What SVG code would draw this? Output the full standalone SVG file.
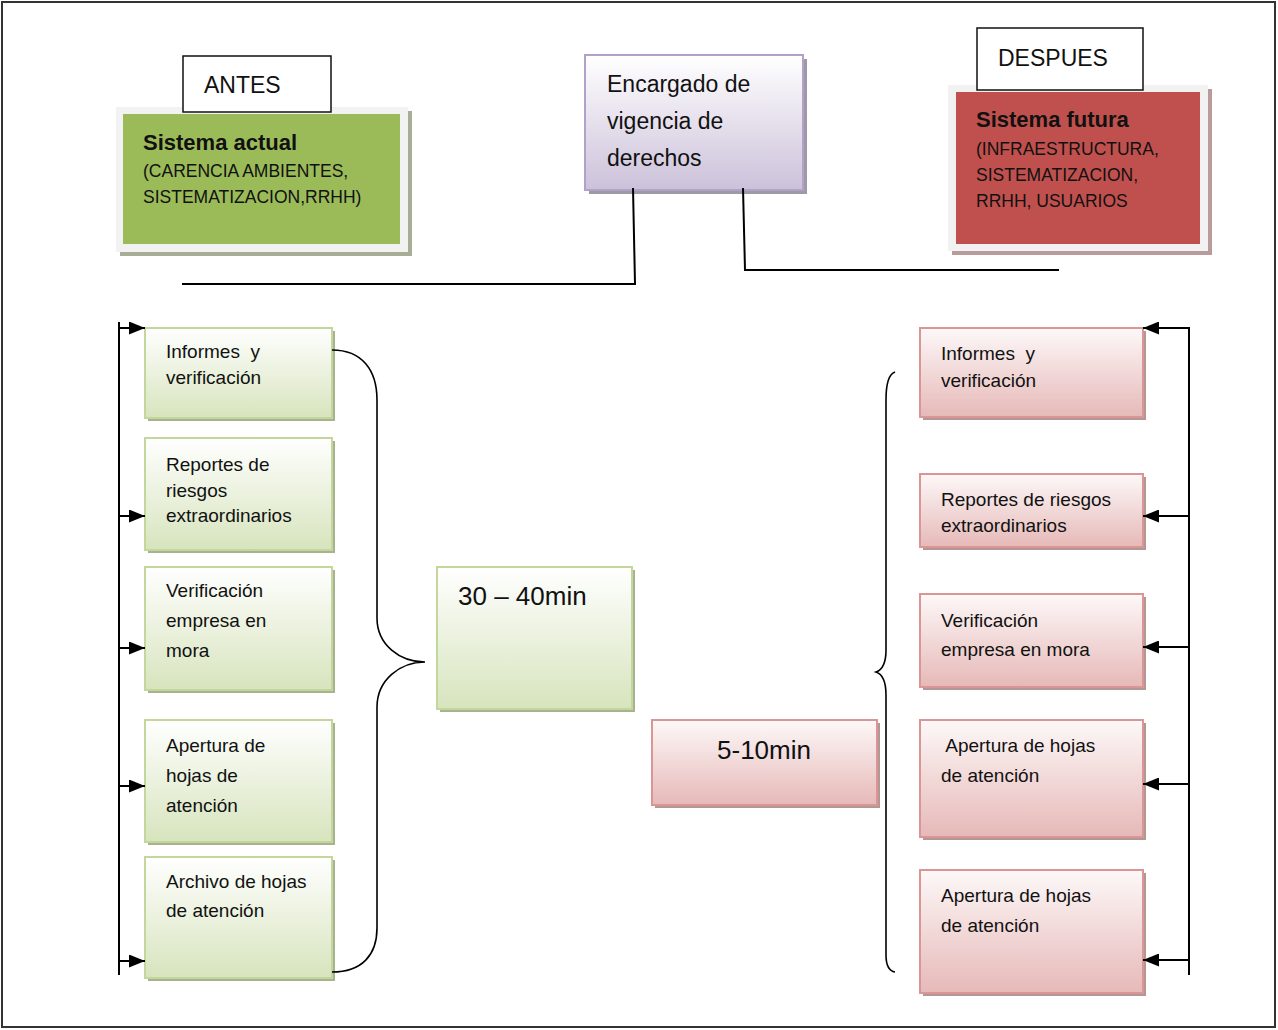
<svg xmlns="http://www.w3.org/2000/svg" width="1278" height="1030" viewBox="0 0 1278 1030">
  <defs>
    <linearGradient id="gGreen" x1="0" y1="0" x2="0" y2="1">
      <stop offset="0" stop-color="#FFFFFF"/>
      <stop offset="1" stop-color="#D7E4BD"/>
    </linearGradient>
    <linearGradient id="gRed" x1="0" y1="0" x2="0" y2="1">
      <stop offset="0" stop-color="#FDF8F8"/>
      <stop offset="1" stop-color="#E6B9B8"/>
    </linearGradient>
    <linearGradient id="gLilac" x1="0" y1="0" x2="0" y2="1">
      <stop offset="0" stop-color="#FFFFFF"/>
      <stop offset="1" stop-color="#CCC1DA"/>
    </linearGradient>
    <marker id="arrow" viewBox="0 0 16 13" refX="16" refY="6.5" markerWidth="16" markerHeight="13" markerUnits="userSpaceOnUse" orient="auto">
      <path d="M0,0 L16,6.5 L0,13 Z" fill="#000"/>
    </marker>
  </defs>
  <style>
    text { font-family: "Liberation Sans", Arial, sans-serif; fill: #111; white-space: pre; }
    .t19 { font-size: 19px; }
    .t17 { font-size: 17.5px; }
    .big { font-size: 23px; }
    .time { font-size: 26px; }
    .bold { font-weight: bold; font-size: 22px; }
    .label { fill: #FFFFFF; stroke: #111; stroke-width: 1.5; }
    .gBox { fill: url(#gGreen); stroke: #C3D69B; stroke-width: 2; }
    .gShadow { fill: #A7B28F; }
    .rBox { fill: url(#gRed); stroke: #D99694; stroke-width: 2; }
    .rShadow { fill: #B39795; }
    .frame { fill: #F2F2F2; }
    .line { fill: none; stroke: #000; stroke-width: 2; }
    .brace { fill: none; stroke: #000; stroke-width: 1.6; }
  </style>

  <rect x="0" y="0" width="1278" height="1030" fill="#FFFFFF"/>
  <!-- page border -->
  <rect x="2" y="2" width="1273" height="1025" fill="none" stroke="#333" stroke-width="2"/>

  <!-- current system -->
  <g id="sistema-actual">
    <rect x="120" y="111" width="292" height="145" fill="#A6AE95"/>
    <rect class="frame" x="116" y="107" width="292" height="145"/>
    <rect x="123" y="114" width="277" height="130" fill="#9BBB59"/>
    <text class="bold" x="143" y="150">Sistema actual</text>
    <text class="t17" x="143" y="177">(CARENCIA AMBIENTES,</text>
    <text class="t17" x="143" y="203">SISTEMATIZACION,RRHH)</text>
  </g>

  <!-- future system -->
  <g id="sistema-futura">
    <rect x="952" y="89" width="260" height="166" fill="#B89B9A"/>
    <rect class="frame" x="948" y="85" width="260" height="166"/>
    <rect x="956" y="92" width="244" height="152" fill="#C0504D"/>
    <text class="bold" x="976" y="127">Sistema futura</text>
    <text class="t17" x="976" y="155">(INFRAESTRUCTURA,</text>
    <text class="t17" x="976" y="181">SISTEMATIZACION,</text>
    <text class="t17" x="976" y="207">RRHH, USUARIOS</text>
  </g>

  <!-- header labels, drawn over the system boxes -->
  <g id="antes">
    <rect class="label" x="183" y="56" width="148" height="56"/>
    <text class="big" x="204" y="93">ANTES</text>
  </g>
  <g id="despues">
    <rect class="label" x="977" y="28" width="166" height="62"/>
    <text class="big" x="998" y="66">DESPUES</text>
  </g>

  <!-- responsible -->
  <g id="encargado">
    <rect x="589" y="59" width="218" height="135" fill="#9E98A8"/>
    <rect x="585" y="55" width="218" height="135" fill="url(#gLilac)" stroke="#B3A2C7" stroke-width="2"/>
    <text class="big" x="607" y="92">Encargado de</text>
    <text class="big" x="607" y="129">vigencia de</text>
    <text class="big" x="607" y="166">derechos</text>
  </g>

  <!-- left column: current steps -->
  <g id="antes-informes">
    <rect class="gShadow" x="148" y="331" width="187" height="90"/>
    <rect class="gBox" x="145" y="328" width="187" height="90"/>
    <text class="t19" x="166" y="358">Informes  y</text>
    <text class="t19" x="166" y="384">verificación</text>
  </g>
  <g id="antes-reportes">
    <rect class="gShadow" x="148" y="441" width="187" height="112"/>
    <rect class="gBox" x="145" y="438" width="187" height="112"/>
    <text class="t19" x="166" y="471">Reportes de</text>
    <text class="t19" x="166" y="497">riesgos</text>
    <text class="t19" x="166" y="522">extraordinarios</text>
  </g>
  <g id="antes-verificacion">
    <rect class="gShadow" x="148" y="570" width="187" height="123"/>
    <rect class="gBox" x="145" y="567" width="187" height="123"/>
    <text class="t19" x="166" y="597">Verificación</text>
    <text class="t19" x="166" y="627">empresa en</text>
    <text class="t19" x="166" y="657">mora</text>
  </g>
  <g id="antes-apertura">
    <rect class="gShadow" x="148" y="723" width="187" height="122"/>
    <rect class="gBox" x="145" y="720" width="187" height="122"/>
    <text class="t19" x="166" y="752">Apertura de</text>
    <text class="t19" x="166" y="782">hojas de</text>
    <text class="t19" x="166" y="812">atención</text>
  </g>
  <g id="antes-archivo">
    <rect class="gShadow" x="148" y="860" width="187" height="121"/>
    <rect class="gBox" x="145" y="857" width="187" height="121"/>
    <text class="t19" x="166" y="888">Archivo de hojas</text>
    <text class="t19" x="166" y="917">de atención</text>
  </g>

  <!-- current duration -->
  <g id="tiempo-antes">
    <rect class="gShadow" x="440" y="570" width="195" height="142"/>
    <rect class="gBox" x="437" y="567" width="195" height="142"/>
    <text class="time" x="458" y="605">30 – 40min</text>
  </g>

  <!-- right column: future steps -->
  <g id="despues-informes">
    <rect class="rShadow" x="923" y="331" width="223" height="89"/>
    <rect class="rBox" x="920" y="328" width="223" height="89"/>
    <text class="t19" x="941" y="360">Informes  y</text>
    <text class="t19" x="941" y="387">verificación</text>
  </g>
  <g id="despues-reportes">
    <rect class="rShadow" x="923" y="477" width="223" height="73"/>
    <rect class="rBox" x="920" y="474" width="223" height="73"/>
    <text class="t19" x="941" y="506">Reportes de riesgos</text>
    <text class="t19" x="941" y="532">extraordinarios</text>
  </g>
  <g id="despues-verificacion">
    <rect class="rShadow" x="923" y="597" width="223" height="93"/>
    <rect class="rBox" x="920" y="594" width="223" height="93"/>
    <text class="t19" x="941" y="627">Verificación</text>
    <text class="t19" x="941" y="656">empresa en mora</text>
  </g>
  <g id="despues-apertura">
    <rect class="rShadow" x="923" y="723" width="223" height="117"/>
    <rect class="rBox" x="920" y="720" width="223" height="117"/>
    <text class="t19" x="941" y="752"> Apertura de hojas</text>
    <text class="t19" x="941" y="782">de atención</text>
  </g>
  <g id="despues-apertura-2">
    <rect class="rShadow" x="923" y="873" width="223" height="123"/>
    <rect class="rBox" x="920" y="870" width="223" height="123"/>
    <text class="t19" x="941" y="902">Apertura de hojas</text>
    <text class="t19" x="941" y="932">de atención</text>
  </g>

  <!-- future duration -->
  <g id="tiempo-despues">
    <rect class="rShadow" x="655" y="723" width="225" height="85"/>
    <rect class="rBox" x="652" y="720" width="225" height="85"/>
    <text class="time" x="764" y="759" text-anchor="middle">5-10min</text>
  </g>

  <!-- connectors -->
  <g id="connectors">
    <!-- from the responsible box to each side -->
    <polyline class="line" points="633,188 635,284 182,284"/>
    <polyline class="line" points="743,188 745,270 1059,270"/>

    <!-- left feeder bus -->
    <line class="line" x1="119" y1="322" x2="119" y2="975"/>
    <line class="line" x1="119" y1="328" x2="145" y2="328" marker-end="url(#arrow)"/>
    <line class="line" x1="119" y1="516" x2="145" y2="516" marker-end="url(#arrow)"/>
    <line class="line" x1="119" y1="648" x2="145" y2="648" marker-end="url(#arrow)"/>
    <line class="line" x1="119" y1="786" x2="145" y2="786" marker-end="url(#arrow)"/>
    <line class="line" x1="119" y1="961" x2="145" y2="961" marker-end="url(#arrow)"/>

    <!-- right feeder bus -->
    <line class="line" x1="1189" y1="327" x2="1189" y2="975"/>
    <line class="line" x1="1189" y1="328" x2="1143" y2="328" marker-end="url(#arrow)"/>
    <line class="line" x1="1189" y1="516" x2="1143" y2="516" marker-end="url(#arrow)"/>
    <line class="line" x1="1189" y1="647" x2="1143" y2="647" marker-end="url(#arrow)"/>
    <line class="line" x1="1189" y1="784" x2="1143" y2="784" marker-end="url(#arrow)"/>
    <line class="line" x1="1189" y1="960" x2="1143" y2="960" marker-end="url(#arrow)"/>

    <!-- grouping braces -->
    <path class="brace" d="M332,350 C362,350 377,370 377,400 L377,618 C377,645 400,662 425,662 C400,662 377,680 377,707 L377,928 C377,955 362,972 332,972"/>
    <path class="brace" d="M895,372 C889,374 886,385 886,400 L886,650 C886,663 882,670 876,672 C882,674 886,682 886,695 L886,955 C886,966 889,971 895,972"/>
  </g>
</svg>
